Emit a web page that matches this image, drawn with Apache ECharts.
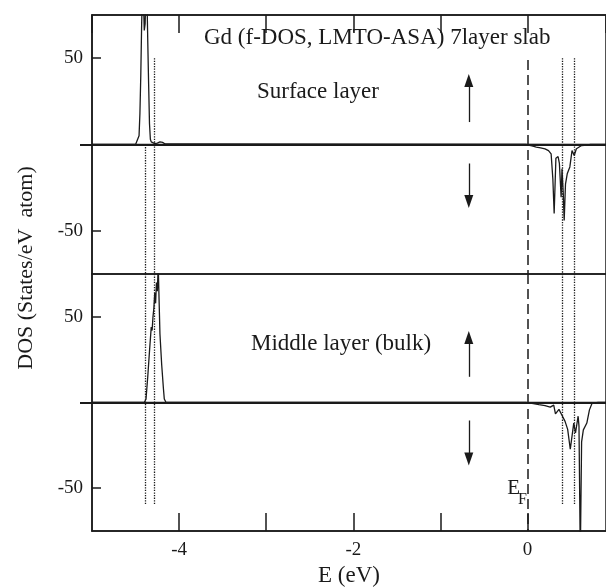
<!DOCTYPE html>
<html>
<head>
<meta charset="utf-8">
<script src="https://cdn.jsdelivr.net/npm/echarts@6.0.0/dist/echarts.min.js"></script>
<style>
  html, body { margin: 0; padding: 0; background: #fff; }
  #main { width: 606px; height: 588px; }
</style>
</head>
<body>
<div id="main"></div>
<script>
var chart = echarts.init(document.getElementById('main'));

// energy range and ticks
var xMin = -5, xMax = 0.9;
var xTickLabels = [-4, -2, 0];
var yTickLabels = [-50, 50];

// surface layer, spin up (f peak below EF)
var surfUpE   = [-5, -4.50, -4.48, -4.46, -4.45, -4.44, -4.43, -4.42, -4.41, -4.40, -4.39, -4.38, -4.37, -4.36, -4.35, -4.34, -4.33, -4.32, -4.30, -4.28, -4.25, -4.22, -4.19, -4.16, -4.14, 0.9];
var surfUpDos = [0, 0, 1, 5, 18, 40, 70, 90, 85, 66, 70, 92, 88, 60, 35, 12, 3, 1.5, 1.5, 0.5, 0.8, 1.5, 1.2, 0.3, 0, 0];

// surface layer, spin down (above EF)
var surfDnE   = [-5, -0.02, 0.00, 0.05, 0.10, 0.15, 0.20, 0.24, 0.27, 0.29, 0.305, 0.325, 0.35, 0.365, 0.385, 0.395, 0.41, 0.42, 0.435, 0.455, 0.485, 0.51, 0.535, 0.56, 0.62, 0.68, 0.72, 0.9];
var surfDnDos = [0, 0, 0, -0.8, -1.5, -2, -2.5, -3.5, -5.4, -20, -40, -8, -7, -11, -30.5, -14, -29, -44, -23, -17, -13, -3.5, -6.4, -2.5, -0.6, -0.3, 0, 0];

// middle (bulk) layer, spin up
var bulkUpE   = [-5, -4.45, -4.40, -4.38, -4.36, -4.34, -4.32, -4.31, -4.30, -4.29, -4.28, -4.27, -4.26, -4.25, -4.24, -4.23, -4.22, -4.20, -4.18, -4.17, -4.15, 0.9];
var bulkUpDos = [0, 0, 0, 2, 15, 30, 44, 42, 50, 55, 64, 58, 70, 65, 80, 60, 40, 22, 8, 2, 0, 0];

// middle (bulk) layer, spin down
var bulkDnE   = [-5, -0.02, 0.00, 0.05, 0.13, 0.20, 0.26, 0.30, 0.32, 0.36, 0.39, 0.43, 0.46, 0.49, 0.51, 0.53, 0.55, 0.58, 0.59, 0.605, 0.62, 0.64, 0.68, 0.71, 0.74, 0.81, 0.9];
var bulkDnDos = [0, 0, 0, -0.5, -1.2, -1.8, -2.7, -1.5, -6.6, -4, -7, -11, -15.7, -27.3, -19.6, -12, -17.8, -8, -13.8, -90, -23, -16, -12, -4.3, -0.4, 0, 0];

// reference lines (E positions)
var efE = 0;
var dottedLeftE = [-4.39, -4.28];
var dottedRightE = [0.40, 0.53];
var arrowE = -0.675;

function zip(a, b) {
  return a.map(function (v, i) { return [v, b[i]]; });
}

var black = '#1a1a1a';
var serif = '"Liberation Serif", "DejaVu Serif", serif';

function vline(e, y0, y1, type) {
  return [
    { coord: [e, y0], lineStyle: { type: type, color: black, width: type === 'dotted' ? 1.3 : 1.5 } },
    { coord: [e, y1] }
  ];
}
function arrow(e, y0, y1) {
  return [
    { coord: [e, y0], symbol: 'none', lineStyle: { type: 'solid', color: black, width: 1.3 } },
    { coord: [e, y1], symbol: 'triangle', symbolSize: [9, 13] }
  ];
}

function panelMarks(isTop) {
  var d = [{ yAxis: 0, lineStyle: { type: 'solid', color: black, width: 2 } }];
  if (isTop) {
    d.push(vline(efE, 49, -75, [10, 5]));
    d.push(vline(dottedLeftE[0], 0, -75, 'dotted'));
    d.push(vline(dottedLeftE[1], 50, -75, 'dotted'));
    d.push(vline(dottedRightE[0], 50, -75, 'dotted'));
    d.push(vline(dottedRightE[1], 50, -75, 'dotted'));
    d.push(arrow(arrowE, 13, 37));
    d.push(arrow(arrowE, -11, -33));
  } else {
    d.push(vline(efE, 75, -75, [10, 5]));
    dottedLeftE.concat(dottedRightE).forEach(function (e) {
      d.push(vline(e, 75, -60, 'dotted'));
    });
    d.push(arrow(arrowE, 15, 38));
    d.push(arrow(arrowE, -10.5, -33));
  }
  return {
    silent: true,
    animation: false,
    symbol: ['none', 'none'],
    label: { show: false },
    data: d
  };
}

function mainY(gridIndex) {
  return {
    type: 'value', gridIndex: gridIndex, min: -75, max: 75,
    axisLine: { show: true, onZero: false, lineStyle: { color: black, width: 1.5 } },
    axisTick: { show: true, inside: true, length: 9, customValues: yTickLabels, lineStyle: { color: black, width: 1.5 } },
    axisLabel: { show: true, customValues: yTickLabels, margin: 9, color: black, fontFamily: serif, fontSize: 19 },
    splitLine: { show: false }
  };
}
function zeroY(gridIndex) {
  return {
    type: 'value', gridIndex: gridIndex, min: -75, max: 75, position: 'left',
    axisLine: { show: false, onZero: false },
    axisTick: { show: true, inside: false, length: 12, customValues: [0], lineStyle: { color: black, width: 2 } },
    axisLabel: { show: false },
    splitLine: { show: false }
  };
}

var lineBase = {
  type: 'line', showSymbol: false, symbol: 'none', clip: true, animation: false,
  lineStyle: { color: black, width: 1.3 }
};

var option = {
  animation: false,
  backgroundColor: '#fff',
  grid: [
    { left: 92, right: -2, top: 15, height: 259, show: true, borderColor: black, borderWidth: 1.5, backgroundColor: 'transparent' },
    { left: 92, right: -2, top: 274, height: 259, show: true, borderColor: black, borderWidth: 1.5, backgroundColor: 'transparent' }
  ],
  xAxis: [
    {
      type: 'value', gridIndex: 0, position: 'top', min: xMin, max: xMax, interval: 1,
      axisLine: { show: true, onZero: false, lineStyle: { color: black, width: 1.5 } },
      axisTick: { show: true, inside: true, length: 18, lineStyle: { color: black, width: 1.5 } },
      axisLabel: { show: false },
      splitLine: { show: false }
    },
    {
      type: 'value', gridIndex: 1, position: 'bottom', min: xMin, max: xMax, interval: 1,
      name: 'E (eV)', nameLocation: 'middle', nameGap: 33,
      nameTextStyle: { color: black, fontFamily: serif, fontSize: 23 },
      axisLine: { show: true, onZero: false, lineStyle: { color: black, width: 1.5 } },
      axisTick: { show: true, inside: true, length: 18, lineStyle: { color: black, width: 1.5 } },
      axisLabel: {
        show: true, margin: 10, color: black, fontFamily: serif, fontSize: 19,
        showMinLabel: false, showMaxLabel: false,
        formatter: function (v) { return xTickLabels.indexOf(v) >= 0 ? String(v) : ''; }
      },
      splitLine: { show: false }
    }
  ],
  yAxis: [mainY(0), zeroY(0), mainY(1), zeroY(1)],
  graphic: [
    { type: 'text', x: 204, y: 38, style: { text: 'Gd (f-DOS, LMTO-ASA) 7layer slab', fill: black, font: '23px ' + serif, align: 'left', verticalAlign: 'middle' } },
    { type: 'text', x: 257, y: 92, style: { text: 'Surface layer', fill: black, font: '23px ' + serif, align: 'left', verticalAlign: 'middle' } },
    { type: 'text', x: 251, y: 344, style: { text: 'Middle layer (bulk)', fill: black, font: '23px ' + serif, align: 'left', verticalAlign: 'middle' } },
    { type: 'text', x: 26, y: 268, rotation: Math.PI / 2, style: { text: 'DOS (States/eV  atom)', fill: black, font: '22px ' + serif, align: 'center', verticalAlign: 'middle' } },
    { type: 'text', x: 520, y: 488, style: { text: 'E', fill: black, font: '21px ' + serif, align: 'right', verticalAlign: 'middle' } },
    { type: 'text', x: 527, y: 500, style: { text: 'F', fill: black, font: '16px ' + serif, align: 'right', verticalAlign: 'middle' } }
  ],
  series: [
    Object.assign({}, lineBase, { name: 'surf up', xAxisIndex: 0, yAxisIndex: 0, data: zip(surfUpE, surfUpDos), markLine: panelMarks(true) }),
    Object.assign({}, lineBase, { name: 'surf down', xAxisIndex: 0, yAxisIndex: 0, data: zip(surfDnE, surfDnDos) }),
    Object.assign({}, lineBase, { name: 'bulk up', xAxisIndex: 1, yAxisIndex: 2, data: zip(bulkUpE, bulkUpDos), markLine: panelMarks(false) }),
    Object.assign({}, lineBase, { name: 'bulk down', xAxisIndex: 1, yAxisIndex: 2, data: zip(bulkDnE, bulkDnDos) })
  ]
};

chart.setOption(option);
</script>
</body>
</html>
